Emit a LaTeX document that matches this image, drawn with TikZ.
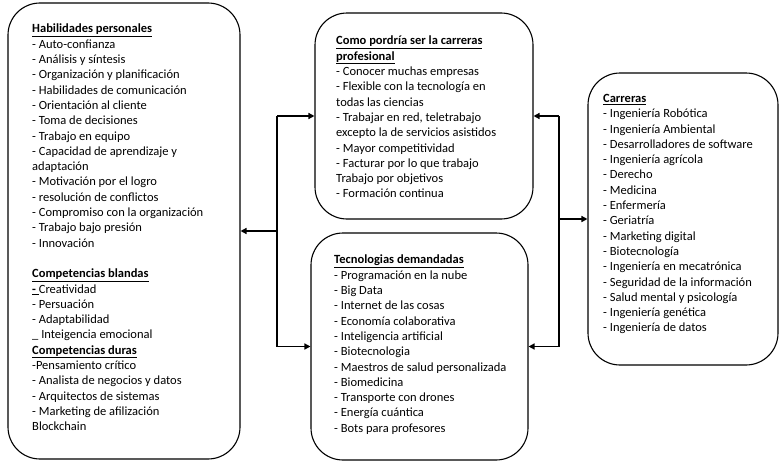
\documentclass[tikz,border=0pt]{standalone}
\usepackage{fontspec}
\setmainfont{Carlito}
\usetikzlibrary{arrows.meta}
\begin{document}
\begin{tikzpicture}[x=1pt,y=-1pt,
  box/.style={draw,line width=1.1pt,rounded corners=32pt,inner sep=0pt},
  txt/.style={anchor=north west,inner sep=0pt,align=left,font=\fontsize{12.5}{15.3}\selectfont},
  conn/.style={line width=1.6pt},
  arr/.style={line width=1.6pt,-{Triangle[length=6pt,width=6pt]}}]
\useasboundingbox (0,0) rectangle (779,463);
% boxes
\node[box,minimum width=232pt,minimum height=456pt] (hab) at (124,231) {};
\node[box,minimum width=218pt,minimum height=206pt] (prof) at (424,116) {};
\node[box,minimum width=217pt,minimum height=227pt] (tec) at (419.5,346.5) {};
\node[box,minimum width=190pt,minimum height=292pt] (car) at (683,219) {};
% texts
\node[txt] (habt) at (32,24) {\underline{\textbf{Habilidades personales}}\\
- Auto-confianza\\
- Análisis y síntesis\\
- Organización y planificación\\
- Habilidades de comunicación\\
- Orientación al cliente\\
- Toma de decisiones\\
- Trabajo en equipo\\
- Capacidad de aprendizaje y\\
adaptación\\
- Motivación por el logro\\
- resolución de conflictos\\
- Compromiso con la organización\\
- Trabajo bajo presión\\
- Innovación\\
\mbox{}\\
\underline{\textbf{Competencias blandas}}\\
\underline{\textbf{-\ }}Creatividad\\
- Persuación\\
- Adaptabilidad\\
\_ Inteigencia emocional\\
\underline{\textbf{Competencias duras}}\\
-Pensamiento crítico\\
- Analista de negocios y datos\\
- Arquitectos de sistemas\\
- Marketing de afilización\\
Blockchain};
\node[txt] (proft) at (336,36) {\underline{\textbf{Como pordría ser la carreras}}\\
\underline{\textbf{profesional}}\\
- Conocer muchas empresas\\
- Flexible con la tecnología en\\
todas las ciencias\\
- Trabajar en red, teletrabajo\\
excepto la de servicios asistidos\\
- Mayor competitividad\\
- Facturar por lo que trabajo\\
Trabajo por objetivos\\
- Formación continua};
\node[txt] (tect) at (334,255) {\underline{\textbf{Tecnologias demandadas}}\\
- Programación en la nube\\
- Big Data\\
- Internet de las cosas\\
- Economía colaborativa\\
- Inteligencia artificial\\
- Biotecnologia\\
- Maestros de salud personalizada\\
- Biomedicina\\
- Transporte con drones\\
- Energía cuántica\\
- Bots para profesores};
\node[txt] (cart) at (603,94) {\underline{\textbf{Carreras}}\\
- Ingeniería Robótica\\
- Ingeniería Ambiental\\
- Desarrolladores de software\\
- Ingeniería agrícola\\
- Derecho\\
- Medicina\\
- Enfermería\\
- Geriatría\\
- Marketing digital\\
- Biotecnología\\
- Ingeniería en mecatrónica\\
- Seguridad de la información\\
- Salud mental y psicología\\
- Ingeniería genética\\
- Ingeniería de datos};
% connectors
\coordinate (lt) at (277,116);
\coordinate (lm) at (277,231);
\coordinate (lb) at (277,346.5);
\coordinate (rt) at (559,116);
\coordinate (rm) at (559,219);
\coordinate (rb) at (559,346.5);
\draw[conn] (lt) -- (lb);
\draw[arr] (lt) -- (prof.west);
\draw[arr] (lb) -- (tec.west);
\draw[arr] (lm) -- (hab.east);
\draw[conn] (rt) -- (rb);
\draw[arr] (rt) -- (prof.east);
\draw[arr] (rb) -- (tec.east);
\draw[arr] (rm) -- (car.west);
\end{tikzpicture}
\end{document}
